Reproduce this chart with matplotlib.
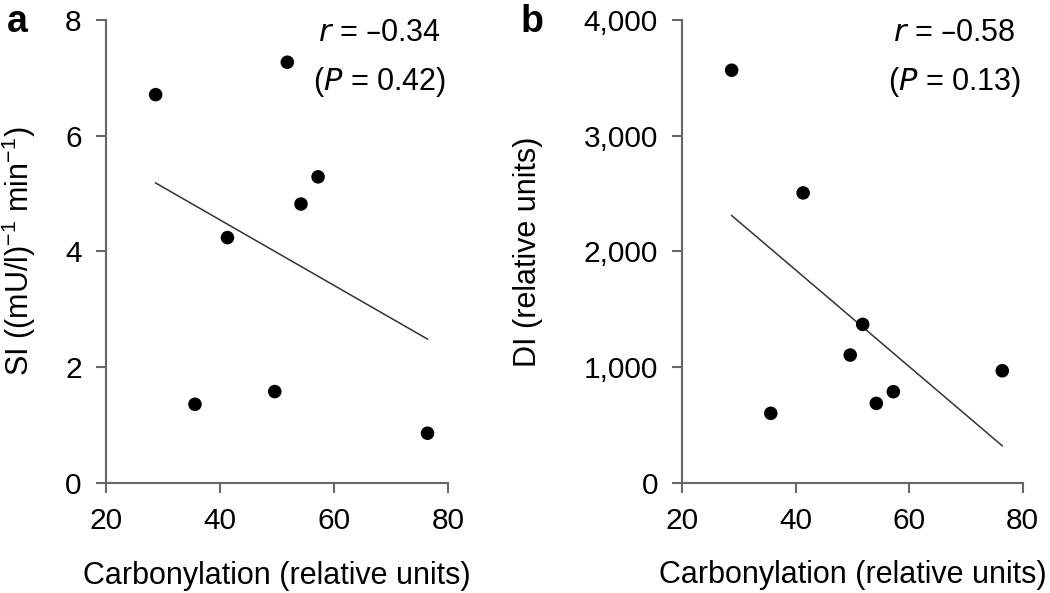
import numpy as np
import matplotlib
matplotlib.use("Agg")
import matplotlib.pyplot as plt
from matplotlib.ticker import FuncFormatter

plt.rcParams['font.family'] = ['Liberation Sans', 'DejaVu Sans']
plt.rcParams['mathtext.default'] = 'regular'

# carbonylation values shared by both panels
carbonylation = [28.7, 35.6, 41.3, 49.6, 51.8, 54.2, 57.2, 76.4]
si_values = [6.71, 1.36, 4.24, 1.58, 7.27, 4.82, 5.29, 0.86]
di_values = [3567, 600, 2506, 1104, 1369, 686, 787, 968]

x_ticks = [20, 40, 60, 80]
si_ticks = [0, 2, 4, 6, 8]
di_ticks = [0, 1000, 2000, 3000, 4000]

stats_a = ("\u20130.34", "0.42")
stats_b = ("\u20130.58", "0.13")

spine_col = '#666666'


def style_axes(ax):
    for side in ['top', 'right']:
        ax.spines[side].set_visible(False)
    for side in ['left', 'bottom']:
        ax.spines[side].set_color(spine_col)
        ax.spines[side].set_linewidth(1.5)
    ax.tick_params(direction='out', length=7.5, width=1.5, color=spine_col,
                   labelsize=21.5, pad=10)


def panel(ax, y, yticks, ylim, ylabel, stats, ylab_x, fmt=None):
    x = np.array(carbonylation)
    y = np.array(y)
    ax.scatter(x, y, s=95, color='black', zorder=3, edgecolors='none')
    slope, icpt = np.polyfit(x, y, 1)
    xs = np.array([x.min(), x.max()])
    ax.plot(xs, slope * xs + icpt, color='#333333', lw=1.1)
    ax.set_xlim(20, 80)
    ax.set_ylim(*ylim)
    ax.set_xticks(x_ticks)
    ax.set_yticks(yticks)
    if fmt:
        ax.yaxis.set_major_formatter(FuncFormatter(fmt))
    ax.set_xlabel('Carbonylation (relative units)', fontsize=22)
    ax.set_ylabel(ylabel, fontsize=22)
    ax.xaxis.set_label_coords(0.5, -0.168)
    ax.yaxis.set_label_coords(ylab_x, 0.5)
    style_axes(ax)
    tx = 0.80
    ax.text(tx, 0.972, '$\\it{r}$ = ' + stats[0], transform=ax.transAxes,
            ha='center', va='center', fontsize=22)
    ax.text(tx, 0.866, '($\\it{P}$ = ' + stats[1] + ')', transform=ax.transAxes,
            ha='center', va='center', fontsize=22)


fig = plt.figure(figsize=(10.5, 5.93), dpi=100)
ax_a = fig.add_axes([0.101, 0.1855, 0.3257, 0.7808])
ax_b = fig.add_axes([0.6498, 0.186, 0.3242, 0.780])

panel(ax_a, si_values, si_ticks, (0, 8),
      'SI ((mU/l)$^{\u22121}$ min$^{\u22121}$)', stats_a, -0.198)
panel(ax_b, di_values, di_ticks, (0, 4000), 'DI (relative units)', stats_b,
      -0.41, fmt=lambda v, p: f'{int(v):,}')

fig.text(0.007, 0.946, 'a', fontsize=27, fontweight='bold', va='baseline')
fig.text(0.496, 0.946, 'b', fontsize=27, fontweight='bold', va='baseline')

fig.savefig('out.png', dpi=100)
